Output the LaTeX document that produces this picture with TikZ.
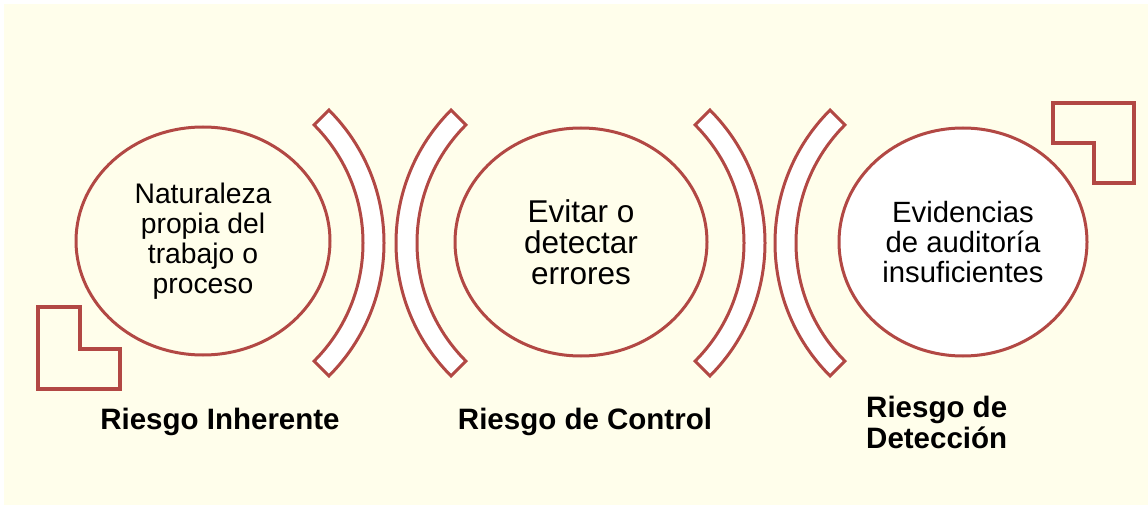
\documentclass[tikz,border=0pt]{standalone}
\usepackage{fontspec}
\setmainfont{Liberation Sans}
\usetikzlibrary{shapes.geometric}
\definecolor{bgyellow}{RGB}{255,254,235}
\definecolor{redline}{RGB}{178,72,68}
\begin{document}
\begin{tikzpicture}[x=1pt,y=1pt,
  oval/.style={ellipse, draw=redline, line width=3pt, inner sep=0pt, align=center, minimum height=228pt},
  band/.style={draw=redline, fill=white, line width=3pt, line join=miter},
  lshape/.style={draw=redline, fill=bgyellow, line width=3.2pt, line join=miter},
  risk/.style={font=\fontsize{29.5}{31}\selectfont\bfseries, inner sep=0pt}
]
\useasboundingbox (0,0) rectangle (1148,-505);
\fill[bgyellow] (4,-4) rectangle (1148,-505);

% ellipses with text
\node[oval, fill=bgyellow, minimum width=254pt, font=\fontsize{28.3}{30}\selectfont] (c1) at (203,-241)
  {Naturaleza\\propia del\\trabajo o\\proceso};
\node[oval, fill=bgyellow, minimum width=252pt, font=\fontsize{31.5}{31}\selectfont] (c2) at (581,-242)
  {Evitar o\\detectar\\errores};
\node[oval, fill=white, minimum width=248pt, font=\fontsize{29.3}{30}\selectfont] (c3) at (963,-242)
  {Evidencias\\de auditoría\\insuficientes};

% block arcs
\draw[band] (196,-243) ++(-45:188pt) arc[start angle=-45, end angle=45, radius=188pt]
  -- ++(225:21pt) arc[start angle=45, end angle=-45, radius=167pt] -- cycle;
\draw[band] (584,-243) ++(135:188pt) arc[start angle=135, end angle=225, radius=188pt]
  -- ++(45:21pt) arc[start angle=225, end angle=135, radius=167pt] -- cycle;
\draw[band] (577,-243) ++(-45:188pt) arc[start angle=-45, end angle=45, radius=188pt]
  -- ++(225:21pt) arc[start angle=45, end angle=-45, radius=167pt] -- cycle;
\draw[band] (963,-243) ++(135:188pt) arc[start angle=135, end angle=225, radius=188pt]
  -- ++(45:21pt) arc[start angle=225, end angle=135, radius=167pt] -- cycle;

% L shapes
\draw[lshape] (38,-307) -- (80,-307) -- (80,-349) -- (120,-349) -- (120,-389) -- (38,-389) -- cycle;
\draw[lshape] (1053,-103) -- (1134,-103) -- (1134,-183) -- (1094,-183) -- (1094,-143) -- (1053,-143) -- cycle;

% labels
\node[risk] (r1) at (220,-422) {Riesgo Inherente};
\node[risk] (r2) at (585,-422) {Riesgo de Control};
\node[risk, align=left, anchor=west] (r3) at (866,-422) {Riesgo de\\Detección};
\end{tikzpicture}
\end{document}
